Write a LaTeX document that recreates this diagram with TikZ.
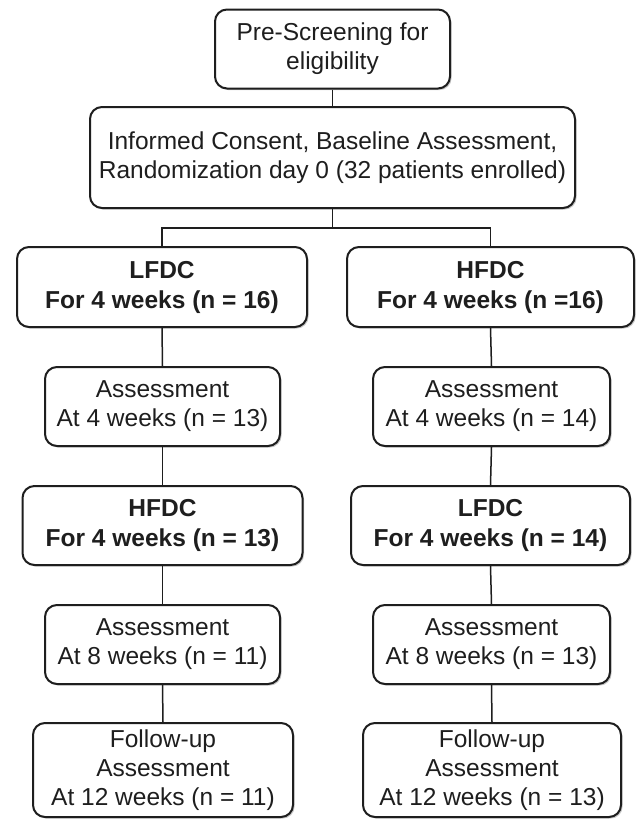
\documentclass[tikz,border=0pt]{standalone}
\usepackage{fontspec}
\setmainfont{Liberation Sans}
\usetikzlibrary{shadows}
\definecolor{edge}{HTML}{1E1E1E}
\tikzset{
  box/.style={draw=edge, line width=2pt, rounded corners=12pt, fill=white,
    align=center, inner sep=0pt, text=edge,
    font=\fontsize{24.5}{29}\selectfont,
    drop shadow={shadow xshift=1.6pt, shadow yshift=-1.6pt, opacity=0.35, fill=black!60}},
  boldbox/.style={box, font=\fontsize{24.5}{30}\selectfont\bfseries},
  link/.style={draw=edge, line width=1.5pt}
}
\begin{document}
\begin{tikzpicture}[x=1pt,y=-1pt]
\useasboundingbox[fill=white] (0,0) rectangle (635,819);
\node[box, minimum width=235pt, minimum height=79pt] (pre) at (332.5,49) {Pre-Screening for\\eligibility};
\node[box, minimum width=485pt, minimum height=101pt] (inf) at (332.5,157.5) {Informed Consent, Baseline Assessment,\\Randomization day 0 (32 patients enrolled)};
\coordinate (split) at (332.5,228);
\node[boldbox, minimum width=290pt, minimum height=80pt] (L1) at (162,287) {LFDC\\For 4 weeks (n = 16)};
\node[boldbox, minimum width=287pt, minimum height=80pt] (R1) at (490.5,287) {HFDC\\For 4 weeks (n =16)};
\node[box, minimum width=235pt, minimum height=79pt] (L2) at (162.5,406.5) {Assessment\\At 4 weeks (n = 13)};
\node[box, minimum width=237pt, minimum height=79pt] (R2) at (491.5,406.5) {Assessment\\At 4 weeks (n = 14)};
\node[boldbox, minimum width=280pt, minimum height=79pt] (L3) at (162.5,525.5) {HFDC\\For 4 weeks (n = 13)};
\node[boldbox, minimum width=279pt, minimum height=79pt] (R3) at (490.5,525.5) {LFDC\\For 4 weeks (n = 14)};
\node[box, minimum width=235pt, minimum height=79pt] (L4) at (162.5,644.5) {Assessment\\At 8 weeks (n = 11)};
\node[box, minimum width=237pt, minimum height=79pt] (R4) at (491.5,644.5) {Assessment\\At 8 weeks (n = 13)};
\node[box, minimum width=260pt, minimum height=94pt] (L5) at (163,770) {Follow-up\\Assessment\\At 12 weeks (n = 11)};
\node[box, minimum width=258pt, minimum height=94pt] (R5) at (492,770) {Follow-up\\Assessment\\At 12 weeks (n = 13)};
\path[link] (pre.south) -- (inf.north);
\path[link] (inf.south) -- (split);
\path[link] (L1.north) |- (split) -| (R1.north);
\path[link] (L1.south) -- (L2.north);
\path[link] (L2.south) -- (L3.north);
\path[link] (L3.south) -- (L4.north);
\path[link] (L4.south) -- (L5.north);
\path[link] (R1.south) -- (R2.north);
\path[link] (R2.south) -- (R3.north);
\path[link] (R3.south) -- (R4.north);
\path[link] (R4.south) -- (R5.north);
\end{tikzpicture}
\end{document}
